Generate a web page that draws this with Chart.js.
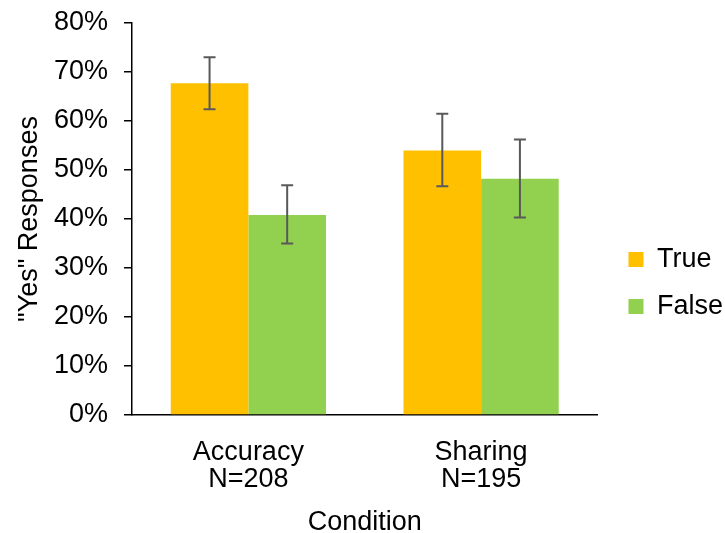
<!DOCTYPE html>
<html>
<head>
<meta charset="utf-8">
<script src="https://cdn.jsdelivr.net/npm/chart.js@4/dist/chart.umd.min.js"></script>
<style>
  html, body { margin: 0; padding: 0; background: #fff; }
  #wrap { width: 725px; height: 533px; }
</style>
</head>
<body>
<div id="wrap"><canvas id="chart"></canvas></div>
<script>
var categories = [['Accuracy', 'N=208'], ['Sharing', 'N=195']];
var trueValues = [67.7, 54.0];
var trueLow = [62.4, 46.7];
var trueHigh = [73.0, 61.5];
var falseValues = [40.8, 48.2];
var falseLow = [35.0, 40.3];
var falseHigh = [46.9, 56.2];
var yTicks = [0, 10, 20, 30, 40, 50, 60, 70, 80];

Chart.defaults.font.family = '"Liberation Sans", Arial, sans-serif';
Chart.defaults.font.size = 27;
Chart.defaults.color = '#000';

// draws the whiskers on top of the bars
var errorBars = {
    id: 'errorBars',
    afterDatasetsDraw: function(chart) {
        var ctx = chart.ctx;
        var y = chart.scales.y;
        chart.data.datasets.forEach(function(ds, i) {
            var meta = chart.getDatasetMeta(i);
            meta.data.forEach(function(bar, j) {
                var top = y.getPixelForValue(ds.errHigh[j]);
                var bot = y.getPixelForValue(ds.errLow[j]);
                ctx.save();
                ctx.strokeStyle = '#595959';
                ctx.lineWidth = 2;
                ctx.beginPath();
                ctx.moveTo(bar.x, top); ctx.lineTo(bar.x, bot);
                ctx.moveTo(bar.x - 6, top); ctx.lineTo(bar.x + 6, top);
                ctx.moveTo(bar.x - 6, bot); ctx.lineTo(bar.x + 6, bot);
                ctx.stroke();
                ctx.restore();
            });
        });
    }
};

// the legend sits a bit lower and further right than chart.js puts it
var legendNudge = {
    id: 'legendNudge',
    afterLayout: function(chart) {
        var l = chart.legend;
        l.left += 11; l.right += 11;
        l.top += 5; l.bottom += 5;
    }
};

var ctx = document.getElementById('chart');
var chart = new Chart(ctx, {
    type: 'bar',
    plugins: [errorBars, legendNudge],
    data: {
        labels: categories,
        datasets: [
            {
                label: 'True',
                data: trueValues,
                errLow: trueLow,
                errHigh: trueHigh,
                backgroundColor: '#FFC000'
            },
            {
                label: 'False',
                data: falseValues,
                errLow: falseLow,
                errHigh: falseHigh,
                backgroundColor: '#92D050'
            }
        ]
    },
    options: {
        responsive: true,
        maintainAspectRatio: false,
        animation: false,
        layout: { padding: { top: 23, left: 13, right: 3, bottom: 0 } },
        datasets: { bar: { categoryPercentage: 0.667, barPercentage: 1.0 } },
        plugins: {
            legend: {
                position: 'right',
                maxWidth: 129,
                labels: { boxWidth: 15, boxHeight: 15, padding: 20 }
            },
            tooltip: { enabled: false }
        },
        scales: {
            x: {
                grid: { display: false, drawTicks: false },
                border: { color: '#000', width: 1.5 },
                ticks: { padding: 24, font: { lineHeight: 1.0 } },
                title: { display: true, text: 'Condition', font: { lineHeight: 1 }, padding: { top: 0, bottom: -3 } },
                afterFit: function(scale) { scale.height = 118; }
            },
            y: {
                min: 0,
                max: 80,
                afterBuildTicks: function(axis) {
                    axis.ticks = yTicks.map(function(v) { return { value: v }; });
                },
                grid: { drawOnChartArea: false, drawTicks: true, tickLength: 8, color: '#000', lineWidth: 1.5 },
                border: { color: '#000', width: 1.5 },
                ticks: {
                    padding: 16,
                    callback: function(v) { return v + '%'; }
                },
                title: { display: true, text: '"Yes" Responses', padding: { top: 0, bottom: 0 } },
                afterFit: function(scale) {
                    scale.width = 119;
                    scale.paddingTop = 0;
                    scale.paddingBottom = 0;
                }
            }
        }
    }
});
</script>
</body>
</html>
